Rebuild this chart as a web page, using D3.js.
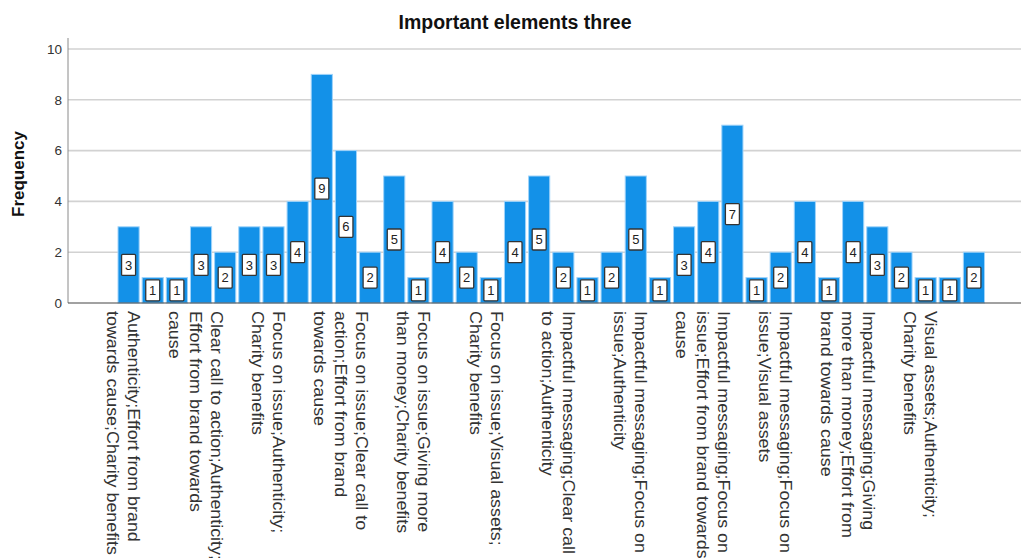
<!DOCTYPE html>
<html>
<head>
<meta charset="utf-8">
<script src="https://cdn.jsdelivr.net/npm/d3@7"></script>
<style>
  html, body { margin: 0; padding: 0; background: #fff; overflow: hidden; }
  svg { display: block; font-family: "Liberation Sans", Arial, sans-serif; }
</style>
</head>
<body>
<svg id="chart" width="1021" height="558"></svg>
<script>
// ---- data ----
const title = "Important elements three";
const yTitle = "Frequency";
const values = [3,1,1,3,2,3,3,4,9,6,2,5,1,4,2,1,4,5,2,1,2,5,1,3,4,7,1,2,4,1,4,3,2,1,1,2];
const yTicks = [0,2,4,6,8,10];
// visible category labels (every third bar), already wrapped as in the reference
const tickIndex = [0,3,6,9,12,15,18,21,24,27,30,33];
const tickLabels = [
  ["Authenticity;Effort from brand", "towards cause;Charity benefits"],
  ["Clear call to action;Authenticity;", "Effort from brand towards", "cause"],
  ["Focus on issue;Authenticity;", "Charity benefits"],
  ["Focus on issue;Clear call to", "action;Effort from brand", "towards cause"],
  ["Focus on issue;Giving more", "than money;Charity benefits"],
  ["Focus on issue;Visual assets;", "Charity benefits"],
  ["Impactful messaging;Clear call", "to action;Authenticity"],
  ["Impactful messaging;Focus on", "issue;Authenticity"],
  ["Impactful messaging;Focus on", "issue;Effort from brand towards", "cause"],
  ["Impactful messaging;Focus on", "issue;Visual assets"],
  ["Impactful messaging;Giving", "more than money;Effort from", "brand towards cause"],
  ["Visual assets;Authenticity;", "Charity benefits"]
];

// ---- layout ----
const svg = d3.select("#chart");
const plotLeft = 68, plotRight = 1021, plotTop = 38, plotBottom = 303;

const x = d3.scaleBand()
  .domain(d3.range(values.length))
  .range([116.5, 986])
  .paddingInner(0.125)
  .paddingOuter(0.0625);

const y = d3.scaleLinear().domain([0, 10]).range([plotBottom, 49]);

// gridlines
svg.append("g").selectAll("line")
  .data(yTicks.filter(d => d > 0))
  .join("line")
  .attr("x1", plotLeft).attr("x2", plotRight)
  .attr("y1", d => y(d)).attr("y2", d => y(d))
  .attr("stroke", "#d2d2d2").attr("stroke-width", 1.6);

// y axis line
svg.append("line")
  .attr("x1", plotLeft).attr("x2", plotLeft)
  .attr("y1", plotTop).attr("y2", plotBottom)
  .attr("stroke", "#8a8a8a").attr("stroke-width", 1);

// y tick labels
svg.append("g").selectAll("text")
  .data(yTicks)
  .join("text")
  .attr("x", 62).attr("y", d => y(d))
  .attr("dy", "0.35em")
  .attr("text-anchor", "end")
  .attr("font-size", 13.5)
  .attr("fill", "#333")
  .text(d => d);

// bars
svg.append("g").selectAll("rect")
  .data(values)
  .join("rect")
  .attr("x", (d, i) => x(i))
  .attr("width", x.bandwidth())
  .attr("y", d => y(d))
  .attr("height", d => y(0) - y(d))
  .attr("fill", "#1391e8")
  .attr("stroke", "#9fd3fa")
  .attr("stroke-width", 1);

// x axis line
svg.append("line")
  .attr("x1", plotLeft).attr("x2", plotRight)
  .attr("y1", plotBottom).attr("y2", plotBottom)
  .attr("stroke", "#444").attr("stroke-width", 1.2);

// value labels
const vl = svg.append("g").selectAll("g")
  .data(values)
  .join("g")
  .attr("transform", (d, i) => `translate(${x(i) + x.bandwidth() / 2},${y(d / 2)})`);
vl.append("rect")
  .attr("x", -7).attr("y", -10.5)
  .attr("width", 14).attr("height", 21)
  .attr("rx", 1)
  .attr("fill", "#fff").attr("stroke", "#333").attr("stroke-width", 1.3);
vl.append("text")
  .attr("text-anchor", "middle")
  .attr("dy", "0.36em")
  .attr("font-size", 13)
  .attr("fill", "#222")
  .text(d => d);

// category labels (rotated 90deg clockwise)
const fs = 17, lh = 21;
const cl = svg.append("g").selectAll("g")
  .data(tickLabels)
  .join("g")
  .attr("transform", (d, k) => `translate(${x(tickIndex[k]) + x.bandwidth() / 2},311) rotate(90) scale(1.05,1)`);
cl.each(function(lines) {
  const g = d3.select(this);
  const y0 = 10.8 - (lines.length - 1) * lh / 2;
  g.selectAll("text")
    .data(lines)
    .join("text")
    .attr("x", 0)
    .attr("y", (t, i) => y0 + i * lh)
    .attr("font-size", fs)
    .attr("fill", "#333")
    .text(t => t);
});

// title
svg.append("text")
  .attr("x", 515).attr("y", 29)
  .attr("text-anchor", "middle")
  .attr("font-size", 19.5)
  .attr("font-weight", "bold")
  .attr("fill", "#111")
  .text(title);

// y axis title
svg.append("text")
  .attr("transform", "translate(24,174) rotate(-90)")
  .attr("text-anchor", "middle")
  .attr("font-size", 17)
  .attr("font-weight", "bold")
  .attr("fill", "#111")
  .text(yTitle);
</script>
</body>
</html>
